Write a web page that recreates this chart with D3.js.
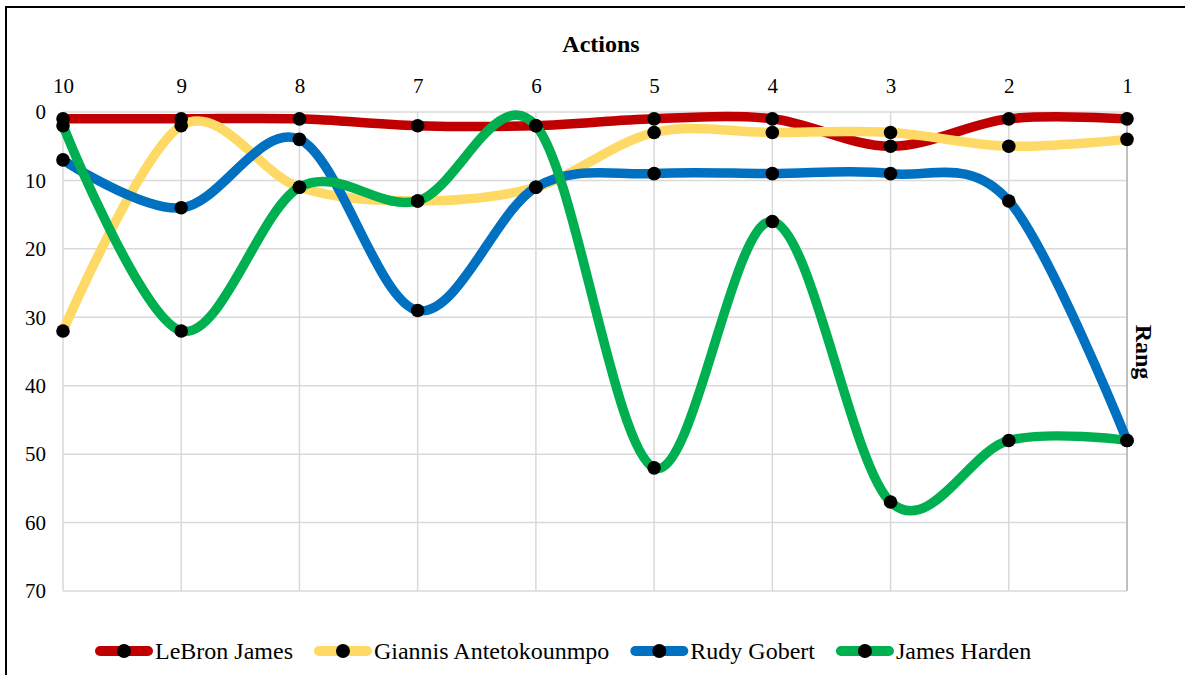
<!DOCTYPE html>
<html>
<head>
<meta charset="utf-8">
<script src="https://cdn.jsdelivr.net/npm/d3@7"></script>
<style>
  html, body { margin: 0; padding: 0; background: #fff; }
  svg { display: block; }
  text { font-family: "Liberation Serif", "Times New Roman", serif; fill: #000; }
</style>
</head>
<body>
<svg id="chart" width="1185" height="675"></svg>
<script>
const categories = ["10", "9", "8", "7", "6", "5", "4", "3", "2", "1"];
const seriesNames = ["LeBron James", "Giannis Antetokounmpo", "Rudy Gobert", "James Harden"];
const lebron  = [1, 1, 1, 2, 2, 1, 1, 5, 1, 1];
const giannis = [32, 2, 11, 13, 11, 3, 3, 3, 5, 4];
const rudy    = [7, 14, 4, 29, 11, 9, 9, 9, 13, 48];
const harden  = [2, 32, 11, 13, 2, 52, 16, 57, 48, 48];
const yTicks = [0, 10, 20, 30, 40, 50, 60, 70];
const colors = ["#C00000", "#FFD966", "#0070C0", "#00B050"];

const series = [lebron, giannis, rudy, harden].map((vals, i) => ({
  name: seriesNames[i], color: colors[i],
  values: vals.map((v, j) => ({ cat: categories[j], v }))
}));

const svg = d3.select("#chart");
const pLeft = 63, pRight = 1127, pTop = 112, pBottom = 591;

// outer frame
svg.append("rect").attr("x", 6).attr("y", 7).attr("width", 1185).attr("height", 680)
  .attr("fill", "none").attr("stroke", "#000").attr("stroke-width", 2);

const x = d3.scalePoint().domain(categories).range([pLeft, pRight]).padding(0);
const y = d3.scaleLinear().domain([0, 70]).range([pTop, pBottom]);

// gridlines
const g = svg.append("g");
g.selectAll(".hg").data(yTicks).join("line")
  .attr("x1", pLeft).attr("x2", pRight)
  .attr("y1", d => y(d)).attr("y2", d => y(d))
  .attr("stroke", "#d9d9d9").attr("stroke-width", 1.5);
g.selectAll(".vg").data(categories).join("line")
  .attr("x1", d => x(d)).attr("x2", d => x(d))
  .attr("y1", pTop).attr("y2", pBottom)
  .attr("stroke", d => d === "1" ? "#bfbfbf" : "#d9d9d9")
  .attr("stroke-width", d => d === "1" ? 2 : 1.5);

// top axis labels
const xAxis = d3.axisTop(x).tickSize(0).tickPadding(0);
const xa = svg.append("g").attr("transform", `translate(0,${pTop - 19.5})`).call(xAxis);
xa.select(".domain").remove();
xa.selectAll("text").attr("font-size", 21).attr("font-family", "Liberation Serif").attr("fill", "#000").attr("dy", 0);

// left axis labels
const yAxis = d3.axisLeft(y).tickValues(yTicks).tickSize(0).tickPadding(0);
const ya = svg.append("g").attr("transform", `translate(${pLeft - 17},0)`).call(yAxis);
ya.select(".domain").remove();
ya.selectAll("text").attr("font-size", 21).attr("font-family", "Liberation Serif").attr("fill", "#000");

// titles
svg.append("text").attr("x", 601).attr("y", 52).attr("text-anchor", "middle")
  .attr("font-size", 24).attr("font-weight", "bold").text("Actions");
svg.append("text").attr("transform", `translate(1136,352) rotate(90)`)
  .attr("text-anchor", "middle").attr("font-size", 24).attr("font-weight", "bold").text("Rang");

// lines
const line = d3.line().x(d => x(d.cat)).y(d => y(d.v)).curve(d3.curveCardinal.tension(0));
const sg = svg.append("g");
series.forEach(s => {
  sg.append("path").datum(s.values).attr("d", line)
    .attr("fill", "none").attr("stroke", s.color).attr("stroke-width", 9.5)
    .attr("stroke-linecap", "round").attr("stroke-linejoin", "round");
});
series.forEach(s => {
  sg.selectAll(null).data(s.values).join("circle")
    .attr("cx", d => x(d.cat)).attr("cy", d => y(d.v))
    .attr("r", 6.8).attr("fill", "#000");
});

// legend
const lg = svg.append("g");
let lx = 95;
const ly = 651;
series.forEach((s, i) => {
  lg.append("line").attr("x1", lx + 5).attr("x2", lx + 53).attr("y1", ly).attr("y2", ly)
    .attr("stroke", s.color).attr("stroke-width", 10).attr("stroke-linecap", "round");
  lg.append("circle").attr("cx", lx + 29).attr("cy", ly).attr("r", 7).attr("fill", "#000");
  const t = lg.append("text").attr("x", lx + 60).attr("y", ly + 7.5).attr("font-size", 24).text(s.name);
  lx = lx + 60 + t.node().getComputedTextLength() + 21;
});
</script>
</body>
</html>
